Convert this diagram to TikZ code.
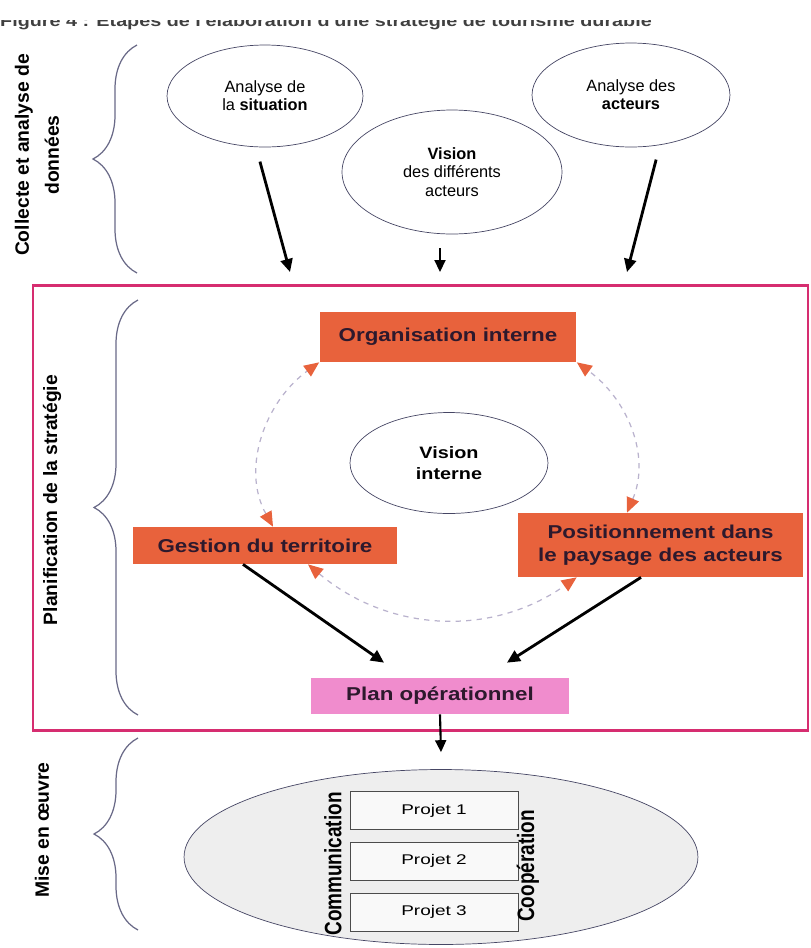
\documentclass[tikz,border=0pt]{standalone}
\usepackage{fontspec}
\setmainfont{Liberation Sans}
\newfontfamily\widefont[FakeStretch=1.2]{Liberation Sans}
\newfontfamily\titlefont[FakeStretch=1.25]{Liberation Sans}
\newfontfamily\projfont[FakeStretch=1.35]{Liberation Sans}
\newfontfamily\tallfont[FakeStretch=0.8]{Liberation Sans}
\usepackage{tikz}
\usetikzlibrary{arrows.meta, positioning, shapes.geometric, decorations.pathreplacing}
\definecolor{boxorange}{RGB}{232,98,60}
\definecolor{boxpink}{RGB}{240,140,205}
\definecolor{framepink}{RGB}{214,45,112}
\definecolor{boxtext}{RGB}{45,25,45}
\definecolor{cyclegray}{RGB}{185,178,205}
\definecolor{linegray}{RGB}{70,70,100}
\definecolor{bracegray}{RGB}{105,105,135}
\tikzset{otip/.tip={Triangle[length=0.3cm, width=0.26cm, color=boxorange]}}

\begin{document}
\begin{tikzpicture}[
        x=0.02cm, y=-0.02cm,
        source/.style={
          draw=linegray,
          ellipse,
          inner sep=0pt,
          align=center,
          font=\fontsize{9.3}{10.4}\selectfont
        },
        stage/.style={
          fill=boxorange,
          text=boxtext,
          inner sep=0pt,
          align=center,
          font={\widefont\bfseries\fontsize{10.6}{13}\selectfont}
        },
        projet/.style={
          draw=gray!60!black,
          fill=gray!5,
          minimum width=3.36cm,
          minimum height=0.76cm,
          inner sep=0pt,
          font={\projfont\fontsize{8}{9}\selectfont}
        },
        phase/.style={rotate=90, align=center, font={\bfseries\fontsize{11}{17}\selectfont}},
        sidelabel/.style={rotate=90, font={\tallfont\bfseries\fontsize{13.5}{15}\selectfont}},
        brc/.style={draw=bracegray, line width=0.7pt, decorate,
          decoration={brace, amplitude=0.88cm}},
        arrbig/.style={-{Triangle[length=0.26cm, width=0.24cm]}, line width=1.6pt},
        arrsm/.style={-{Triangle[length=0.24cm, width=0.22cm]}, line width=1.2pt},
        cyc/.style={otip-otip, draw=cyclegray, dashed, line width=0.7pt}
      ]
      \useasboundingbox (0,0) rectangle (811,948);

      % Cut-off title
      \begin{scope}
        \clip (0,20) rectangle (811,40);
        \node[anchor=base west, text=black!75, font={\titlefont\bfseries\fontsize{9}{10}\selectfont}] (title) at (-6,26)
          {Figure 4 : Etapes de l'élaboration d'une stratégie de tourisme durable};
      \end{scope}

      % Collecte et analyse de données
      \node[source, minimum width=3.92cm, minimum height=2.04cm] (sit) at (265,96) {Analyse de\\la \textbf{situation}};
      \node[source, minimum width=4.4cm, minimum height=2.48cm] (vis) at (452,172) {\textbf{Vision}\\des différents\\acteurs};
      \node[source, minimum width=3.96cm, minimum height=2.08cm] (act) at (631,95) {Analyse des\\\textbf{acteurs}};

      \coordinate (in1) at (290,272);
      \coordinate (in2) at (440,272);
      \coordinate (in3) at (627,272);

      \draw[arrbig, shorten <=0.3cm] (sit.-100) -- (in1);
      \draw[arrsm, shorten <=0.28cm] (vis.south -| in2) -- (in2);
      \draw[arrbig, shorten <=0.3cm] (act.-60) -- (in3);

      \draw[brc] (137,273) -- (137,45);
      \node[phase] (collecte) at (37,155) {Collecte et analyse de\\données};

      % Planification de la strategie
      \draw[draw=framepink, line width=1.7pt] (33,285) rectangle (808,730);
      \draw[brc] (138,715) -- (138,300);
      \node[phase] (planif) at (52,500) {Planification de la stratégie};

      \node[stage, minimum width=5.14cm, minimum height=1.0cm] (org) at (448,337) {Organisation interne};
      \node[source, draw=linegray, minimum width=3.96cm, minimum height=2.02cm,
            font={\widefont\bfseries\fontsize{9.4}{11.5}\selectfont}] (vint) at (449,463) {Vision\\interne};
      \node[stage, minimum width=5.28cm, minimum height=0.74cm] (gest) at (265,545.5) {Gestion du territoire};
      \node[stage, minimum width=5.7cm, minimum height=1.28cm] (pos) at (660.5,545) {Positionnement dans\\le paysage des acteurs};
      \node[stage, fill=boxpink, minimum width=5.18cm, minimum height=0.72cm] (plan) at (440,696) {Plan opérationnel};

      \draw[cyc] ([xshift=0.16cm]gest.north) to[out=119, in=216] (org.south west);
      \draw[cyc] ([xshift=-0.67cm]pos.north) to[out=67, in=-36] (org.south east);
      \draw[cyc] ([xshift=0.86cm]gest.south) to[out=-40, in=215] ([xshift=1.18cm]pos.south west);

      \draw[arrbig] ([xshift=-0.44cm]gest.south) -- ([xshift=-1.12cm, yshift=0.3cm]plan.north);
      \draw[arrbig] ([xshift=-0.39cm]pos.south) -- ([xshift=1.34cm, yshift=0.3cm]plan.north);

      % Mise en oeuvre
      \node[ellipse, draw=linegray, fill=gray!13, minimum width=10.28cm, minimum height=3.5cm] (mise) at (441,857) {};
      \draw[arrsm] (plan.south) -- ([yshift=0.34cm]mise.north);

      \node[projet] (p1) at (434,810.5) {Projet 1};
      \node[projet] (p2) at (434,861) {Projet 2};
      \node[projet] (p3) at (434,912) {Projet 3};
      \node[sidelabel] (comm) at (333,864) {Communication};
      \node[sidelabel] (coop) at (528,866) {Coopération};

      \draw[brc] (138,930) -- (138,738);
      \node[phase] (mise-label) at (42,830) {Mise en œuvre};

    \end{tikzpicture}
\end{document}
